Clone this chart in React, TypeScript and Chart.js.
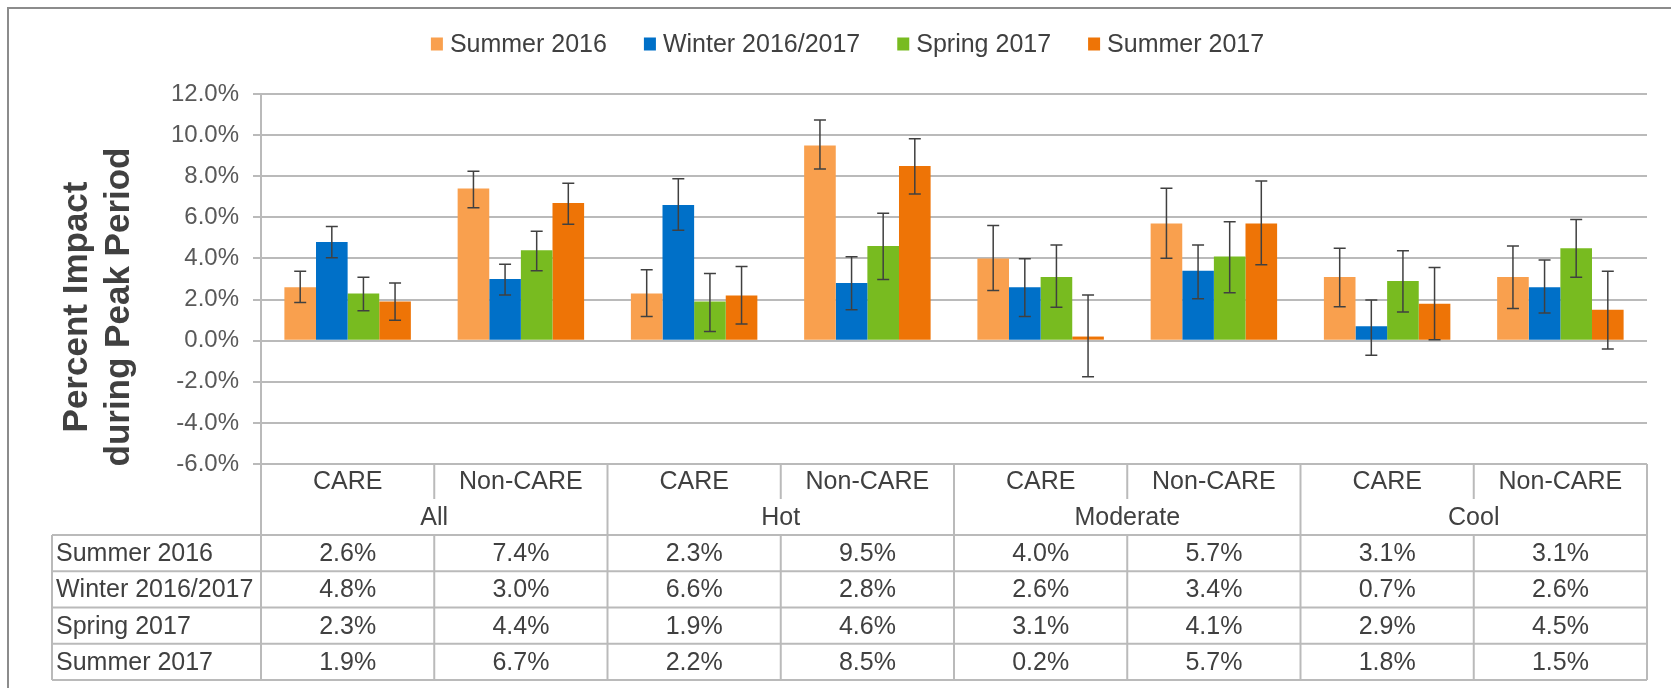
import React, { useEffect, useRef } from 'react';
import { Chart, registerables } from 'chart.js';

Chart.register(...registerables);

// ---------- data ----------
const categories = ['CARE', 'Non-CARE', 'CARE', 'Non-CARE', 'CARE', 'Non-CARE', 'CARE', 'Non-CARE'];
const groups = ['All', 'Hot', 'Moderate', 'Cool'];
const seriesNames = ['Summer 2016', 'Winter 2016/2017', 'Spring 2017', 'Summer 2017'];

const summer2016 = [2.6, 7.4, 2.3, 9.5, 4.0, 5.7, 3.1, 3.1];
const winter2016 = [4.8, 3.0, 6.6, 2.8, 2.6, 3.4, 0.7, 2.6];
const spring2017 = [2.3, 4.4, 1.9, 4.6, 3.1, 4.1, 2.9, 4.5];
const summer2017 = [1.9, 6.7, 2.2, 8.5, 0.2, 5.7, 1.8, 1.5];

// error bar bounds (lower / upper), percent
const summer2016Low = [1.86, 6.47, 1.17, 8.35, 2.44, 4.01, 1.65, 1.57];
const summer2016High = [3.38, 8.24, 3.45, 10.74, 5.6, 7.41, 4.5, 4.61];
const winter2016Low = [4.03, 2.22, 5.37, 1.5, 1.17, 2.04, -0.71, 1.34];
const winter2016High = [5.55, 3.72, 7.88, 4.08, 3.98, 4.66, 1.98, 3.92];
const spring2017Low = [1.46, 3.4, 0.45, 2.98, 1.63, 2.33, 1.39, 3.09];
const spring2017High = [3.09, 5.32, 3.27, 6.2, 4.66, 5.79, 4.38, 5.89];
const summer2017Low = [0.99, 5.66, 0.81, 7.14, -1.76, 3.69, 0.05, -0.4];
const summer2017High = [2.8, 7.66, 3.61, 9.82, 2.22, 7.77, 3.56, 3.38];

const yAxisTitle = ['Percent Impact', 'during Peak Period'];
const yMin = -6;
const yMax = 12;
const yStep = 2;

// ---------- styles ----------
const seriesColors = ['#F9A04E', '#0070C8', '#78BB20', '#EE7406'];
const FONT = '"Liberation Sans", Arial, Helvetica, sans-serif';
const TEXT = '#404040';
const LINE = '#bababa';

const seriesValues = [summer2016, winter2016, spring2017, summer2017];
const seriesLow = [summer2016Low, winter2016Low, spring2017Low, summer2017Low];
const seriesHigh = [summer2016High, winter2016High, spring2017High, summer2017High];

const fmt = (v: number) => v.toFixed(1) + '%';

const framePlugin = {
  id: 'frame',
  beforeDraw(chart: any) {
    const { ctx, width, height } = chart;
    ctx.save();
    ctx.fillStyle = '#ffffff';
    ctx.fillRect(0, 0, width, height);
    ctx.strokeStyle = '#8c8c8c';
    ctx.lineWidth = 2;
    ctx.beginPath();
    ctx.moveTo(8, height);
    ctx.lineTo(8, 8);
    ctx.lineTo(width, 8);
    ctx.stroke();
    ctx.restore();
  },
};

const errorBarPlugin = {
  id: 'errorBars',
  afterDatasetsDraw(chart: any) {
    const { ctx } = chart;
    const y = chart.scales.y;
    ctx.save();
    ctx.strokeStyle = '#404040';
    ctx.lineWidth = 1.5;
    chart.data.datasets.forEach((_: any, i: number) => {
      const meta = chart.getDatasetMeta(i);
      meta.data.forEach((el: any, j: number) => {
        const yl = y.getPixelForValue(seriesLow[i][j]);
        const yh = y.getPixelForValue(seriesHigh[i][j]);
        const x = el.x;
        ctx.beginPath();
        ctx.moveTo(x, yl);
        ctx.lineTo(x, yh);
        ctx.moveTo(x - 6, yl);
        ctx.lineTo(x + 6, yl);
        ctx.moveTo(x - 6, yh);
        ctx.lineTo(x + 6, yh);
        ctx.stroke();
      });
    });
    ctx.restore();
  },
};

const legendPlugin = {
  id: 'customLegend',
  afterDraw(chart: any) {
    const { ctx, width } = chart;
    ctx.save();
    ctx.font = `25px ${FONT}`;
    const box = 12;
    const gap = 7;
    const spacing = 37;
    const widths = seriesNames.map((s) => ctx.measureText(s).width);
    const total = widths.reduce((a, w) => a + box + gap + w, 0) + spacing * (seriesNames.length - 1);
    let x = width / 2 + 12 - total / 2;
    const cy = 44;
    ctx.textBaseline = 'middle';
    ctx.textAlign = 'left';
    seriesNames.forEach((s, i) => {
      ctx.fillStyle = seriesColors[i];
      ctx.fillRect(x, cy - 6.5, box, 13);
      ctx.fillStyle = TEXT;
      ctx.fillText(s, x + box + gap, cy + 1);
      x += box + gap + widths[i] + spacing;
    });
    ctx.restore();
  },
};

const yTitlePlugin = {
  id: 'yTitle',
  afterDraw(chart: any) {
    const { ctx, chartArea } = chart;
    const cy = (chartArea.top + chartArea.bottom) / 2 + 28;
    ctx.save();
    ctx.font = `bold 35px ${FONT}`;
    ctx.fillStyle = TEXT;
    ctx.textAlign = 'center';
    ctx.textBaseline = 'alphabetic';
    const baselines = [87, 129];
    yAxisTitle.forEach((t, i) => {
      ctx.save();
      ctx.translate(baselines[i], cy);
      ctx.rotate(-Math.PI / 2);
      ctx.fillText(t, 0, 0);
      ctx.restore();
    });
    ctx.restore();
  },
};

const tablePlugin = {
  id: 'dataTable',
  afterDraw(chart: any) {
    const { ctx, chartArea } = chart;
    const xs = chart.scales.x;
    const n = categories.length;
    const left = chartArea.left;
    const right = chartArea.right;
    const colW = (right - left) / n;
    const top = chartArea.bottom;
    const r1 = top + 35;
    const r2 = r1 + 36;
    const rowH = 36.25;
    const tableLeft = 52;
    const bottom = r2 + rowH * seriesNames.length;

    ctx.save();
    ctx.strokeStyle = LINE;
    ctx.lineWidth = 2;
    const line = (x1: number, y1: number, x2: number, y2: number) => {
      ctx.beginPath();
      ctx.moveTo(x1, y1);
      ctx.lineTo(x2, y2);
      ctx.stroke();
    };
    for (let k = 0; k <= n; k++) {
      const bx = left + k * colW;
      if (k % 2 === 0) {
        line(bx, top, bx, bottom);
      } else {
        line(bx, top, bx, r1);
        line(bx, r2, bx, bottom);
      }
    }
    line(tableLeft, r2, right, r2);
    for (let r = 1; r <= seriesNames.length; r++) {
      line(tableLeft, r2 + r * rowH, right, r2 + r * rowH);
    }
    line(tableLeft, r2, tableLeft, bottom);

    ctx.font = `25px ${FONT}`;
    ctx.fillStyle = TEXT;
    ctx.textBaseline = 'middle';
    ctx.textAlign = 'center';
    categories.forEach((c, j) => {
      ctx.fillText(c, xs.getPixelForValue(j), (top + r1) / 2 + 1);
    });
    groups.forEach((g, k) => {
      const cx = (xs.getPixelForValue(2 * k) + xs.getPixelForValue(2 * k + 1)) / 2;
      ctx.fillText(g, cx, (r1 + r2) / 2 + 1);
    });
    seriesNames.forEach((s, i) => {
      const cy = r2 + i * rowH + rowH / 2 + 1;
      ctx.textAlign = 'left';
      ctx.fillText(s, tableLeft + 4, cy);
      ctx.textAlign = 'center';
      seriesValues[i].forEach((v, j) => {
        ctx.fillText(fmt(v), xs.getPixelForValue(j), cy);
      });
    });
    ctx.restore();
  },
};

export default function App() {
  const ref = useRef<HTMLCanvasElement>(null);

  useEffect(() => {
    if (!ref.current) return;
    const chart = new Chart(ref.current, {
      type: 'bar',
      data: {
        labels: categories,
        datasets: seriesNames.map((name, i) => ({
          label: name,
          data: seriesValues[i],
          backgroundColor: seriesColors[i],
          borderWidth: 0,
          barPercentage: 1,
          categoryPercentage: 0.73,
        })),
      },
      options: {
        responsive: false,
        animation: false,
        devicePixelRatio: 1,
        layout: { padding: { top: 94, bottom: 224, left: 0, right: 24 } },
        plugins: {
          legend: { display: false },
          tooltip: { enabled: false },
          title: { display: false },
        },
        scales: {
          x: { display: false },
          y: {
            min: yMin,
            max: yMax,
            ticks: {
              stepSize: yStep,
              callback: (v: any) => fmt(Number(v)),
              font: { size: 24, family: FONT },
              color: '#595959',
              padding: 14,
            },
            grid: { color: LINE, lineWidth: 2, tickLength: 8, drawTicks: true },
            border: { color: LINE, width: 2 },
            afterFit: (s: any) => {
              s.width = 261;
            },
          },
        },
      },
      plugins: [framePlugin, errorBarPlugin, legendPlugin, yTitlePlugin, tablePlugin],
    } as any);
    return () => chart.destroy();
  }, []);

  return (
    <div style={{ position: 'fixed', left: 0, top: 0, width: 1671, height: 688, background: '#fff' }}>
      <canvas ref={ref} width={1671} height={688} style={{ width: 1671, height: 688, display: 'block' }} />
    </div>
  );
}
